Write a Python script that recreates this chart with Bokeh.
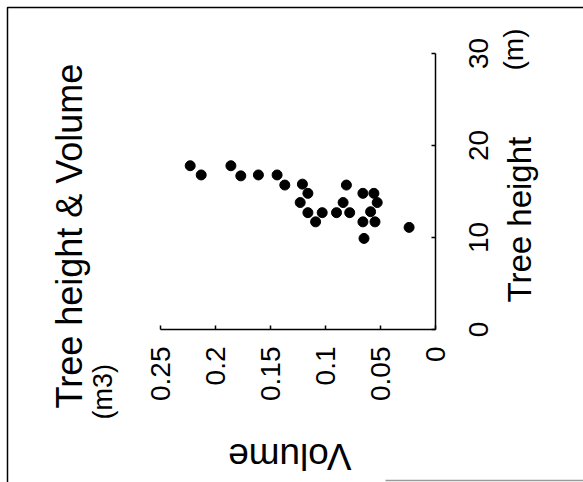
import math
from bokeh.plotting import figure
from bokeh.models import Range1d, LinearAxis, FixedTicker, Label, PolyAnnotation
from bokeh.core.properties import value
from bokeh.embed import file_html
from bokeh.resources import INLINE

# ---- data ----
volume = [0.223, 0.213, 0.186, 0.177, 0.161, 0.144, 0.137, 0.121, 0.116, 0.123,
          0.116, 0.109, 0.103, 0.090, 0.081, 0.084, 0.078, 0.066, 0.056, 0.053,
          0.059, 0.066, 0.055, 0.065, 0.024]
height = [17.8, 16.8, 17.8, 16.7, 16.8, 16.8, 15.7, 15.8, 14.8, 13.8,
          12.7, 11.7, 12.7, 12.7, 15.7, 13.8, 12.7, 14.8, 14.8, 13.8,
          12.8, 11.7, 11.7, 9.9, 11.1]
volume_ticks = [0, 0.05, 0.1, 0.15, 0.2, 0.25]
volume_tick_labels = ["0", "0.05", "0.1", "0.15", "0.2", "0.25"]
height_ticks = [0, 10, 20, 30]
height_tick_labels = ["0", "10", "20", "30"]
title_text = "Tree height & Volume"
volume_label = "Volume"
volume_unit = "(m3)"
height_label = "Tree height"
height_unit = "(m)"

FONT = "Liberation Sans"
W, H = 583, 482
# the plotting frame covers the whole page; the axes sit at fixed data locations
X0, PX_PER_V = 435.0, 1100.0     # canvas x of volume 0, pixels per m3 (leftwards)
Y0, PX_PER_H = 329.0, 9.2        # canvas y of height 0, pixels per m (upwards)
x_range = Range1d(X0 / PX_PER_V, (X0 - W) / PX_PER_V)
y_range = Range1d((Y0 - H) / PX_PER_H, Y0 / PX_PER_H)

p = figure(width=W, height=H, output_backend="svg", toolbar_location=None,
           title=None, x_range=x_range, y_range=y_range,
           x_axis_location=None, y_axis_location=None, min_border=0)
p.outline_line_color = None
p.grid.visible = False
p.background_fill_color = "white"
p.border_fill_color = "white"

xa = LinearAxis(ticker=FixedTicker(ticks=volume_ticks), fixed_location=0,
                bounds=(min(volume_ticks), max(volume_ticks)),
                major_label_overrides={t: s for t, s in zip(volume_ticks, volume_tick_labels)})
ya = LinearAxis(ticker=FixedTicker(ticks=height_ticks), fixed_location=0,
                bounds=(min(height_ticks), max(height_ticks)))
for ax in (xa, ya):
    ax.axis_line_color = "black"
    ax.axis_line_width = 1.5
    ax.major_tick_in = 4
    ax.major_tick_out = 0
    ax.major_tick_line_width = 1.5
    ax.minor_tick_line_color = None
    ax.major_label_text_font = FONT
    ax.major_label_text_font_size = "28px"
    ax.major_label_text_color = "black"
    ax.major_label_orientation = math.pi / 2
xa.major_label_standoff = 17
# height tick labels are drawn centred on their ticks with a text glyph below
ya.major_label_text_color = None
p.add_layout(xa, "below")
p.add_layout(ya, "right")

p.text(x=[0] * len(height_ticks), y=height_ticks, text=height_tick_labels,
       angle=math.pi / 2, x_offset=43, text_align="center", text_baseline="middle",
       text_font=value(FONT), text_font_size="28px", text_color="black")

p.scatter(volume, height, size=10, color="black")

def lab(text, X, Y, size, angle):
    p.add_layout(Label(x=X, y=H - Y, x_units="screen", y_units="screen",
                       text=text, angle=angle, text_font=FONT,
                       text_font_size=size, text_color="black",
                       text_align="left", text_baseline="alphabetic"))

lab(title_text, 69, 408, "36px", math.pi / 2)
lab(volume_unit, 102, 419, "27px", math.pi / 2)
lab(volume_label, 351, 456, "37px", math.pi)
lab(height_label, 519, 302, "33px", math.pi / 2)
lab(height_unit, 513, 70, "28px", math.pi / 2)

# page border (left and top edges of the scanned page, bottom-right scrap)
p.add_layout(PolyAnnotation(xs=[7, 7, W + 5, W + 5], ys=[-5, H - 7, H - 7, -5],
                            xs_units="screen", ys_units="screen",
                            fill_color=None, line_color="black",
                            line_alpha=1.0, line_width=1.5))
p.add_layout(PolyAnnotation(xs=[385, W + 5], ys=[2, 2],
                            xs_units="screen", ys_units="screen",
                            fill_color=None, line_color="#9a9a9a",
                            line_alpha=1.0, line_width=1.5))

open("out.html", "w").write(file_html(p, INLINE))
